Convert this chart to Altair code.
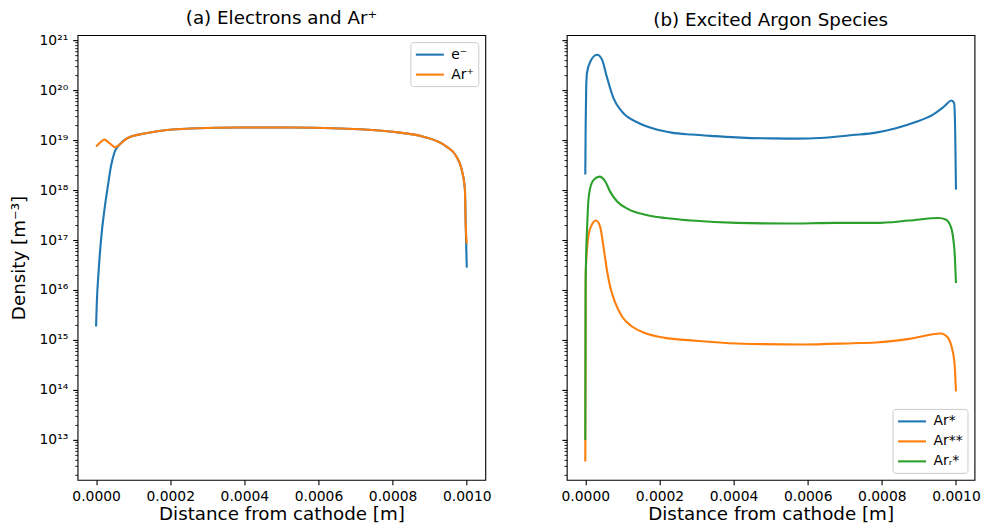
import altair as alt
import pandas as pd

# ---------------- data ----------------
# Panel (a): electrons and Ar+
e_x = [0, 1.9e-6, 6.5e-6, 1.34e-5, 2.26e-5, 3.15e-5, 4.0e-5, 4.9e-5, 6.3e-5, 8.5e-5, 1.3e-4, 1.66e-4,
       2.55e-4, 3.90e-4, 5.24e-4, 6.59e-4, 7.93e-4, 8.83e-4, 9.45e-4, 9.72e-4, 9.86e-4, 9.95e-4,
       9.97e-4, 1.0e-3]
e_n = [1.86e15, 5.5e15, 2.2e16, 1.02e17, 4.1e17, 1.17e18, 2.95e18, 5.5e18, 8.1e18, 1.1e19, 1.35e19, 1.5e19,
       1.7e19, 1.78e19, 1.78e19, 1.7e19, 1.48e19, 1.17e19, 7.4e18, 4.7e18, 2.6e18, 1.02e18,
       2.2e17, 2.8e16]

arp_x = [0, 9.1e-6, 2.26e-5, 3.6e-5, 5.1e-5, 6.3e-5, 8.5e-5, 1.3e-4, 1.66e-4,
         2.55e-4, 3.90e-4, 5.24e-4, 6.59e-4, 7.93e-4, 8.83e-4, 9.45e-4, 9.72e-4, 9.86e-4, 9.95e-4,
         9.97e-4, 1.0e-3]
arp_n = [7.4e18, 8.7e18, 1.02e19, 8.7e18, 7.2e18, 8.1e18, 1.1e19, 1.35e19, 1.5e19,
         1.7e19, 1.78e19, 1.78e19, 1.7e19, 1.48e19, 1.17e19, 7.4e18, 4.7e18, 2.6e18, 1.02e18,
         2.2e17, 8.5e16]

# Panel (b): excited argon species
ars_x = [0, 1.0e-6, 2.5e-6, 4.6e-6, 1.34e-5, 3.15e-5, 4.5e-5, 5.8e-5, 7.6e-5, 9.9e-5, 1.44e-4, 1.88e-4,
         2.33e-4, 2.87e-4, 3.5e-4, 4.2e-4, 5.0e-4, 5.7e-4, 6.32e-4, 7.22e-4, 7.84e-4, 8.38e-4,
         8.91e-4, 9.37e-4, 9.68e-4, 9.88e-4, 9.95e-4, 9.98e-4, 1.0e-3]
ars_n = [2.04e18, 2.0e19, 1.17e20, 2.2e20, 3.7e20, 5.1e20, 4.1e20, 1.86e20, 6.9e19, 3.7e19, 2.2e19, 1.66e19,
         1.41e19, 1.29e19, 1.2e19, 1.12e19, 1.08e19, 1.07e19, 1.1e19, 1.26e19, 1.41e19, 1.72e19,
         2.3e19, 3.2e19, 4.7e19, 6.2e19, 5.5e19, 1.38e19, 1.02e18]

arss_x = [0, 1.2e-6, 4.6e-6, 9.1e-6, 1.8e-5, 2.88e-5, 4.0e-5, 4.9e-5, 5.8e-5, 6.7e-5, 8.1e-5, 9.9e-5,
          1.26e-4, 1.61e-4, 2.15e-4, 2.87e-4, 4.08e-4, 5.87e-4, 7.22e-4, 7.84e-4, 8.74e-4, 9.59e-4,
          9.77e-4, 9.88e-4, 9.96e-4, 1.0e-3]
arss_n = [3.7e12, 2.2e16, 6.5e16, 1.29e17, 2.04e17, 2.45e17, 1.86e17, 7.4e16, 2.6e16, 1.17e16, 5.5e15, 2.95e15,
          1.86e15, 1.38e15, 1.1e15, 9.8e14, 8.5e14, 8.1e14, 8.6e14, 8.9e14, 1.05e15, 1.35e15,
          1.15e15, 7.4e14, 3.5e14, 9.3e13]

arr_x = [0, 8e-7, 1.9e-6, 4.6e-6, 7.3e-6, 1.2e-5, 2.26e-5, 3.8e-5, 5.4e-5, 6.7e-5, 8.6e-5, 1.17e-4,
         1.62e-4, 2.16e-4, 2.87e-4, 4.08e-4, 5.43e-4, 6.77e-4, 7.84e-4, 8.74e-4, 9.54e-4, 9.72e-4,
         9.86e-4, 9.93e-4, 9.97e-4, 1.0e-3]
arr_n = [1.0e13, 1.0e16, 3.5e16, 1.6e17, 4.7e17, 1.0e18, 1.6e18, 1.86e18, 1.48e18, 9.3e17, 5.9e17, 4.1e17,
         3.2e17, 2.75e17, 2.45e17, 2.2e17, 2.14e17, 2.2e17, 2.2e17, 2.45e17, 2.75e17, 2.57e17,
         1.86e17, 1.02e17, 4.7e16, 1.38e16]

left_names = ["e⁻", "Ar⁺"]
right_names = ["Ar*", "Ar**", "Arᵣ*"]
left_colors = ["#1f77b4", "#ff7f0e"]
right_colors = ["#1f77b4", "#ff7f0e", "#2ca02c"]

x_ticks = [0.0, 0.0002, 0.0004, 0.0006, 0.0008, 0.0010]
y_exponents = list(range(13, 22))

# ---------------- tables ----------------
def table(pairs):
    rows = []
    for name, xs, ns in pairs:
        for i, (xv, nv) in enumerate(zip(xs, ns)):
            rows.append({"species": name, "x": xv, "n": nv, "i": i})
    return pd.DataFrame(rows)

left_df = table([(left_names[0], e_x, e_n), (left_names[1], arp_x, arp_n)])
right_df = table([(right_names[0], ars_x, ars_n), (right_names[1], arss_x, arss_n),
                  (right_names[2], arr_x, arr_n)])

# ---------------- styling ----------------
FONT = "DejaVu Sans"
LABEL = 13.9
TITLE = 18.3
ymin, ymax = 10 ** 12.2, 10 ** 21.1
major = [10.0 ** k for k in y_exponents]
minor = [m * 10.0 ** k for k in range(12, 21) for m in range(2, 10)
         if ymin <= m * 10.0 ** k <= ymax]

sup = str.maketrans("0123456789", "⁰¹²³⁴⁵⁶⁷⁸⁹")
label_expr = ""
for k in y_exponents:
    label_expr += f"abs(datum.value/1e{k} - 1) < 1e-6 ? '10{str(k).translate(sup)}' : "
label_expr += "''"

W, H = 408, 445
xscale = alt.Scale(domain=[-0.00005, 0.00105], nice=False, zero=False)
yscale = alt.Scale(type="log", domain=[ymin, ymax], nice=False)

xaxis = alt.Axis(
    values=x_ticks,
    format=".4f",
    title="Distance from cathode [m]",
    tickSize=4.9,
    tickColor="black",
    tickWidth=1.1,
    labelPadding=4.9,
    titlePadding=2,
    grid=False,
    domain=False,
)


def panel(df, names, colors, title, left, legend_orient):
    yaxis = alt.Axis(
        values=major,
        labelExpr=label_expr,
        labels=left,
        title="Density [m⁻³]" if left else None,
        orient="left",
        tickSize=4.9,
        tickColor="black",
        tickWidth=1.1,
        labelPadding=4.9,
        titlePadding=10.5,
        grid=False,
        domain=False,
    )
    minor_axis = alt.Axis(
        values=minor,
        labels=False,
        title=None,
        orient="left",
        tickSize=2.8,
        tickColor="black",
        tickWidth=0.85,
        grid=False,
        domain=False,
    )
    lines = alt.Chart(df).mark_line(strokeWidth=2.1, interpolate="monotone").encode(
        x=alt.X("x:Q", scale=xscale, axis=xaxis),
        y=alt.Y("n:Q", scale=yscale, axis=yaxis),
        color=alt.Color(
            "species:N",
            sort=names,
            scale=alt.Scale(domain=names, range=colors),
            legend=alt.Legend(
                title=None,
                orient=legend_orient,
                offset=7,
                fillColor="rgba(255,255,255,0.8)",
                strokeColor="#cccccc",
                cornerRadius=3,
                padding=4,
                symbolType="M-1,0L3,0",
                symbolSize=196,
                symbolStrokeWidth=2.1,
                labelFont=FONT,
                labelFontSize=LABEL,
                labelColor="black",
                labelOffset=20,
                rowPadding=4,
            ),
        ),
        detail="species:N",
        order="i:Q",
    )
    ticks = alt.Chart(df).mark_line(opacity=0).encode(
        x=alt.X("x:Q", scale=xscale, axis=xaxis),
        y=alt.Y("n:Q", scale=yscale, axis=minor_axis),
        detail="species:N",
    )
    return alt.layer(lines, ticks).resolve_axis(y="independent").properties(
        width=W,
        height=H,
        title=alt.TitleParams(title, font=FONT, fontSize=TITLE, fontWeight="normal",
                              color="black", anchor="middle", offset=4.6),
    )


left = panel(left_df, left_names, left_colors, "(a) Electrons and Ar⁺", True, "top-right")
right = panel(right_df, right_names, right_colors, "(b) Excited Argon Species", False, "bottom-right")

chart = alt.hconcat(left, right, spacing=81.5, bounds="flush").resolve_scale(
    color="independent"
).resolve_legend(color="independent").properties(
    padding={"left": 0.6, "top": 0, "right": 0, "bottom": 0}
).configure_view(
    stroke="black", strokeWidth=1.1
).configure_axis(
    labelFont=FONT, labelFontSize=LABEL, labelColor="black",
    titleFont=FONT, titleFontSize=TITLE, titleColor="black", titleFontWeight="normal",
)

chart.save("out.html", embed_options={"renderer": "svg", "actions": False})
